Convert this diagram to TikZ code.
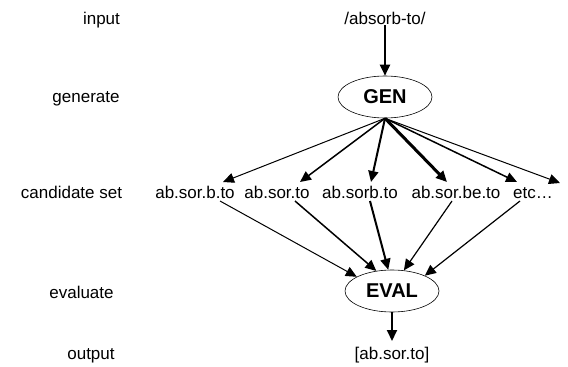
\documentclass[tikz,border=0pt]{standalone}
\usepackage{fontspec}
\setmainfont{Liberation Sans}
\usetikzlibrary{arrows.meta,shapes.geometric}
\begin{document}
\begin{tikzpicture}[x=1pt,y=-1pt,
  lbl/.style={font=\fontsize{17}{20}\selectfont,inner sep=0pt,anchor=base},
  proc/.style={draw,ellipse,line width=0.6pt,minimum width=94pt,minimum height=42pt,inner sep=0pt,font=\fontsize{20}{24}\selectfont\bfseries},
  arr/.style={-{Triangle[length=11pt,width=10pt]}}]
\useasboundingbox (0,0) rectangle (568,367);
% left labels
\node[lbl] (linput) at (101.5,24) {input};
\node[lbl] (lgen) at (86,102) {generate};
\node[lbl] (lcand) at (71.5,198) {candidate set};
\node[lbl] (leval) at (81.5,298) {evaluate};
\node[lbl] (lout) at (91,359) {output};
% main column
\node[lbl] (in) at (385,24) {/absorb-to/};
\node[proc] (gen) at (385,97) {GEN};
\node[proc] (eval) at (392,291) {EVAL};
\node[lbl] (out) at (392,359) {[ab.sor.to]};
% candidates
\node[lbl] (c1) at (195,198) {ab.sor.b.to};
\node[lbl] (c2) at (277,198) {ab.sor.to};
\node[lbl] (c3) at (360,198) {ab.sorb.to};
\node[lbl] (c4) at (456,198) {ab.sor.be.to};
\node[lbl] (c5) at (533,198) {etc…};
% arrow tips above candidates
\coordinate (t1) at (223,182);
\coordinate (t2) at (300,182);
\coordinate (t3) at (371,182);
\coordinate (t4) at (447,182);
\coordinate (t5) at (517,182);
\coordinate (t6) at (560,183);
% line starts below candidates
\coordinate (b1) at (220,201);
\coordinate (b2) at (295,201);
\coordinate (b3) at (370,201);
\coordinate (b4) at (452,201);
\coordinate (b5) at (520,201);
% output arrow tip
\coordinate (o1) at (392,341);
% input and output arrows
\draw[arr,line width=2pt] ([yshift=-1pt]in.south) -- (gen.north);
\draw[arr,line width=2pt] (eval.south) -- (o1);
% GEN to candidates
\draw[arr,line width=1pt] (gen.south) -- (t1);
\draw[arr,line width=1.5pt] (gen.south) -- (t2);
\draw[arr,line width=2pt] (gen.south) -- (t3);
\draw[arr,line width=3pt] (gen.south) -- (t4);
\draw[arr,line width=1.5pt] (gen.south) -- (t5);
\draw[arr,line width=1pt] (gen.south) -- (t6);
% candidates to EVAL
\draw[arr,line width=1pt] (b1) -- (eval.158);
\draw[arr,line width=1.5pt] (b2) -- (eval.128);
\draw[arr,line width=2pt] (b3) -- (eval.100);
\draw[arr,line width=1.2pt] (b4) -- (eval.60);
\draw[arr,line width=1.2pt] (b5) -- (eval.25);
\end{tikzpicture}
\end{document}
